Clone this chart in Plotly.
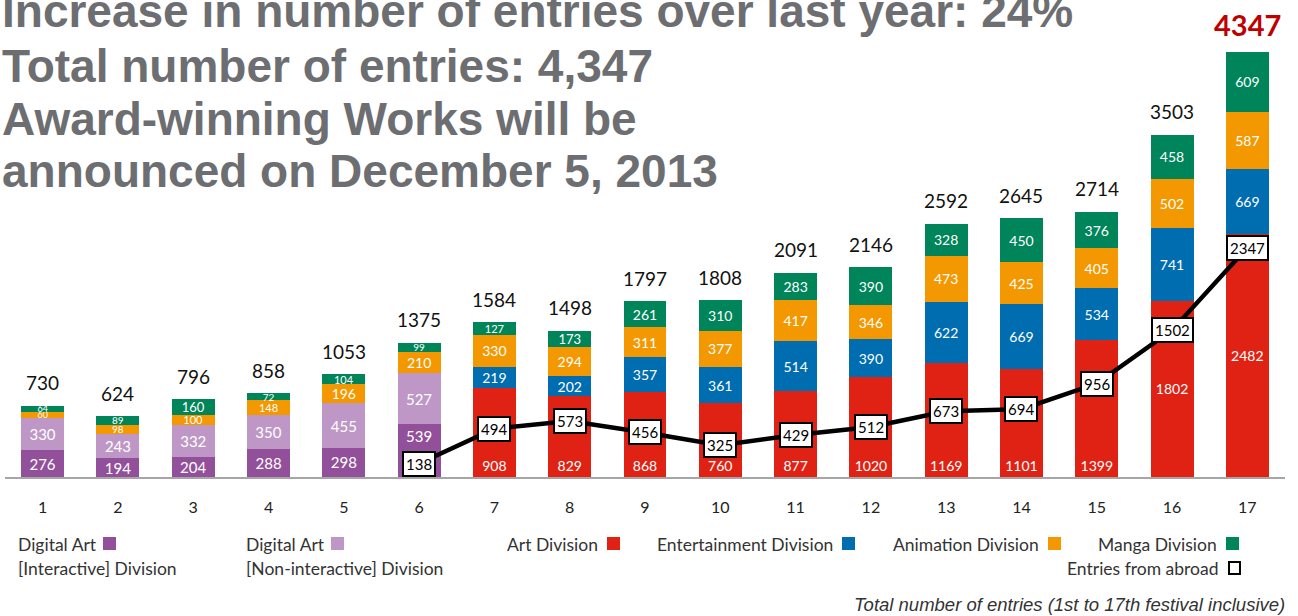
import plotly.graph_objects as go

festivals = list(range(1, 18))
tick_labels = [str(i) for i in festivals]

da_interactive = [276, 194, 204, 288, 298, 539] + [None] * 11
da_noninteractive = [330, 243, 332, 350, 455, 527] + [None] * 11
art = [None] * 6 + [908, 829, 868, 760, 877, 1020, 1169, 1101, 1399, 1802, 2482]
entertainment = [None] * 6 + [219, 202, 357, 361, 514, 390, 622, 669, 534, 741, 669]
animation = [60, 98, 100, 148, 196, 210, 330, 294, 311, 377, 417, 346, 473, 425, 405, 502, 587]
manga = [64, 89, 160, 72, 104, 99, 127, 173, 261, 310, 283, 390, 328, 450, 376, 458, 609]
totals = [730, 624, 796, 858, 1053, 1375, 1584, 1498, 1797, 1808, 2091, 2146, 2592, 2645, 2714, 3503, 4347]
abroad = [None] * 5 + [138, 494, 573, 456, 325, 429, 512, 673, 694, 956, 1502, 2347]

title_lines = [
    "Increase in number of entries over last year: 24%",
    "Total number of entries: 4,347",
    "Award-winning Works will be",
    "announced on December 5, 2013",
]
footnote = "Total number of entries (1st to 17th festival inclusive)"

C_DAI = "#93509A"
C_DAN = "#BE97C6"
C_ART = "#E02214"
C_ENT = "#006DB0"
C_ANI = "#F39800"
C_MAN = "#00845A"

FONT = "Lato"
W, H = 1298, 616
L, R, T, B = 5, 13, 27, 139
PW, PH = W - L - R, H - T - B


def px2x(px):
    return (px - L) / PW


def py2y(py):
    return (H - B - py) / PH


def lbl_size(v, base=14):
    if v is None:
        return base
    if v < 70:
        return 9
    if v < 100:
        return 10
    if v < 150:
        return 11
    if v < 175:
        return 13
    return base


def sub(vals, idx):
    return [v if i in idx else None for i, v in enumerate(vals)]


fig = go.Figure()


def add_bar(name, vals, color, anchor="middle", base=14):
    fig.add_trace(go.Bar(
        x=festivals, y=vals, name=name, marker=dict(color=color, line=dict(width=0)),
        text=[("" if v is None else str(v)) for v in vals],
        textposition="inside", insidetextanchor=anchor, textangle=0,
        constraintext="none", cliponaxis=False,
        textfont=dict(family=FONT, color="white", size=[lbl_size(v, base) for v in vals]),
        hoverinfo="skip", showlegend=False,
    ))


add_bar("Digital Art [Interactive] Division", sub(da_interactive, range(0, 5)), C_DAI, "middle", 15)
add_bar("Digital Art [Interactive] Division", sub(da_interactive, [5]), C_DAI, "end", 15)
add_bar("Digital Art [Non-interactive] Division", da_noninteractive, C_DAN, "middle", 15)
add_bar("Art Division", sub(art, range(6, 15)), C_ART, "start")
add_bar("Art Division", sub(art, [15, 16]), C_ART, "middle")
add_bar("Entertainment Division", entertainment, C_ENT)
add_bar("Animation Division", animation, C_ANI)
add_bar("Manga Division", manga, C_MAN)

fig.add_trace(go.Scatter(
    x=festivals, y=abroad, mode="lines", line=dict(color="black", width=4.5),
    name="Entries from abroad", hoverinfo="skip", showlegend=False, connectgaps=False,
))

annotations = []
# totals above bars
for i, (f, t) in enumerate(zip(festivals, totals)):
    last = i == len(totals) - 1
    annotations.append(dict(
        x=f, y=t, xref="x", yref="y", text=f"<b>{t}</b>" if last else str(t),
        showarrow=False, yanchor="middle", yshift=28 if last else 23,
        font=dict(family=FONT, size=29 if last else 19, color="#C00000" if last else "#111"),
    ))
# abroad boxes
for f, a in zip(festivals, abroad):
    if a is None:
        continue
    annotations.append(dict(
        x=f, y=a, xref="x", yref="y", text=str(a), showarrow=False,
        bgcolor="white", bordercolor="black", borderwidth=2, borderpad=2,
        font=dict(family=FONT, size=15, color="black"),
    ))
# title lines
title_centers = [11, 66, 118.5, 171]
for line, cy in zip(title_lines, title_centers):
    annotations.append(dict(
        x=px2x(0), y=py2y(cy), xref="paper", yref="paper", xanchor="left", yanchor="middle",
        text=f"<b>{line}</b>", showarrow=False,
        font=dict(family="Liberation Sans", size=46, color="#6D6E71"),
    ))

# legend
legend_items = [
    (["Digital Art", "[Interactive] Division"], C_DAI, 16, 103, 544, False),
    (["Digital Art", "[Non-interactive] Division"], C_DAN, 244, 331, 544, False),
    (["Art Division"], C_ART, None, 607, 544, False),
    (["Entertainment Division"], C_ENT, None, 842, 544, False),
    (["Animation Division"], C_ANI, None, 1048, 544, False),
    (["Manga Division"], C_MAN, None, 1226, 544, False),
    (["Entries from abroad"], "black", None, 1228, 568, True),
]
shapes = []
lfont = dict(family=FONT, size=17.5, color="#333")
for texts, color, tx, sqx, sy, hollow in legend_items:
    if tx is None:
        annotations.append(dict(
            x=px2x(sqx - 7), y=py2y(sy), xref="paper", yref="paper", xanchor="right",
            yanchor="middle", text=texts[0], showarrow=False, font=lfont,
        ))
    else:
        for k, t in enumerate(texts):
            annotations.append(dict(
                x=px2x(tx), y=py2y(sy + 24 * k), xref="paper", yref="paper", xanchor="left",
                yanchor="middle", text=t, showarrow=False, font=lfont,
            ))
    if hollow:
        shapes.append(dict(type="rect", xref="paper", yref="paper",
                           x0=px2x(sqx + 1), x1=px2x(sqx + 12), y0=py2y(sy - 6), y1=py2y(sy + 6),
                           line=dict(color="black", width=2), fillcolor="white"))
    else:
        shapes.append(dict(type="rect", xref="paper", yref="paper",
                           x0=px2x(sqx), x1=px2x(sqx + 13), y0=py2y(sy - 7), y1=py2y(sy + 6),
                           line=dict(width=0), fillcolor=color))

annotations.append(dict(
    x=px2x(1287), y=py2y(604), xref="paper", yref="paper", xanchor="right", yanchor="middle",
    text=f"<i>{footnote}</i>", showarrow=False,
    font=dict(family="Liberation Sans", size=18.5, color="#333"),
))

fig.update_layout(
    width=W, height=H, margin=dict(l=L, r=R, t=T, b=B, autoexpand=False),
    paper_bgcolor="white", plot_bgcolor="white",
    barmode="stack", bargap=0.43,
    showlegend=False,
    annotations=annotations, shapes=shapes,
    xaxis=dict(range=[0.5, 17.5], tickvals=festivals, ticktext=tick_labels,
               showgrid=False, zeroline=False, showline=True, linecolor="#A6A6A6", linewidth=2,
               ticks="outside", ticklen=15, tickcolor="rgba(0,0,0,0)",
               tickfont=dict(family=FONT, size=16, color="#222"), fixedrange=True),
    yaxis=dict(range=[0, 4603], visible=False, showgrid=False, zeroline=False, fixedrange=True),
)

fig.write_html(
    "out.html",
    config={"displayModeBar": False},
    post_script="document.body.style.margin='0';document.body.style.overflow='hidden';",
)
